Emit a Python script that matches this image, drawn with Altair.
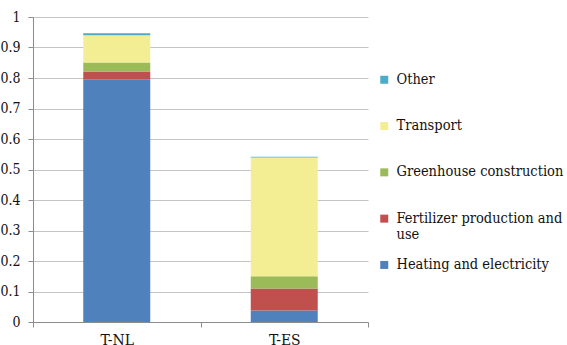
import altair as alt
import pandas as pd

# Emission sources, bottom of the stack first
sources = [
    "Heating and electricity",
    "Fertilizer production and use",
    "Greenhouse construction",
    "Transport",
    "Other",
]
colors = ["#4F81BD", "#C0504D", "#9BBB59", "#F3EE94", "#4BACC6"]

sites = ["T-NL", "T-ES"]
t_nl = [0.796, 0.025, 0.030, 0.089, 0.007]
t_es = [0.038, 0.072, 0.040, 0.389, 0.003]

rows = []
for site, vals in zip(sites, [t_nl, t_es]):
    for i, (src, v) in enumerate(zip(sources, vals)):
        rows.append({"site": site, "source": src, "value": v, "stack": i})
df = pd.DataFrame(rows)

FONT = "DejaVu Serif Condensed"
TEXT = "#111111"

chart = (
    alt.Chart(df)
    .mark_bar(width=alt.RelativeBandSize(0.4))
    .encode(
        x=alt.X(
            "site:N",
            sort=sites,
            title=None,
            scale=alt.Scale(paddingInner=0, paddingOuter=0),
            axis=alt.Axis(
                labelAngle=0,
                tickBand="extent",
                tickSize=5,
                labelPadding=5,
                labelFont=FONT,
                labelFontSize=15.5,
                labelColor=TEXT,
                domainColor="#8c8c8c",
                tickColor="#8c8c8c",
                grid=False,
            ),
        ),
        y=alt.Y(
            "value:Q",
            stack="zero",
            title=None,
            scale=alt.Scale(domain=[0, 1], nice=False),
            axis=alt.Axis(
                values=[i / 10 for i in range(11)],
                labelExpr="datum.value == 0 ? '0' : datum.value == 1 ? '1' : format(datum.value, '.1f')",
                tickSize=5,
                labelPadding=8,
                labelFont=FONT,
                labelFontSize=14,
                labelColor=TEXT,
                domainColor="#8c8c8c",
                tickColor="#8c8c8c",
                gridColor="#c4c4c4",
                grid=True,
            ),
        ),
        color=alt.Color(
            "source:N",
            scale=alt.Scale(domain=list(reversed(sources)), range=list(reversed(colors))),
            legend=alt.Legend(
                title=None,
                orient="none",
                legendX=344,
                legendY=55.5,
                symbolType="square",
                symbolSize=64,
                symbolStrokeWidth=0,
                labelFont=FONT,
                labelFontSize=14.5,
                labelColor=TEXT,
                labelLimit=250,
                labelOffset=5,
                gridAlign="all",
                rowPadding=14.3,
                labelExpr="datum.label == 'Fertilizer production and use' ? ['Fertilizer production and', 'use'] : datum.label",
            ),
        ),
        order=alt.Order("stack:Q", sort="ascending"),
    )
    .properties(
        width=335,
        height=305,
        autosize=alt.AutoSizeParams(type="none"),
        padding={"left": 33, "top": 17, "right": 199, "bottom": 23},
    )
    .configure(background="white")
    .configure_view(stroke=None)
)

chart.save("out.html", embed_options={"renderer": "svg", "actions": False})
